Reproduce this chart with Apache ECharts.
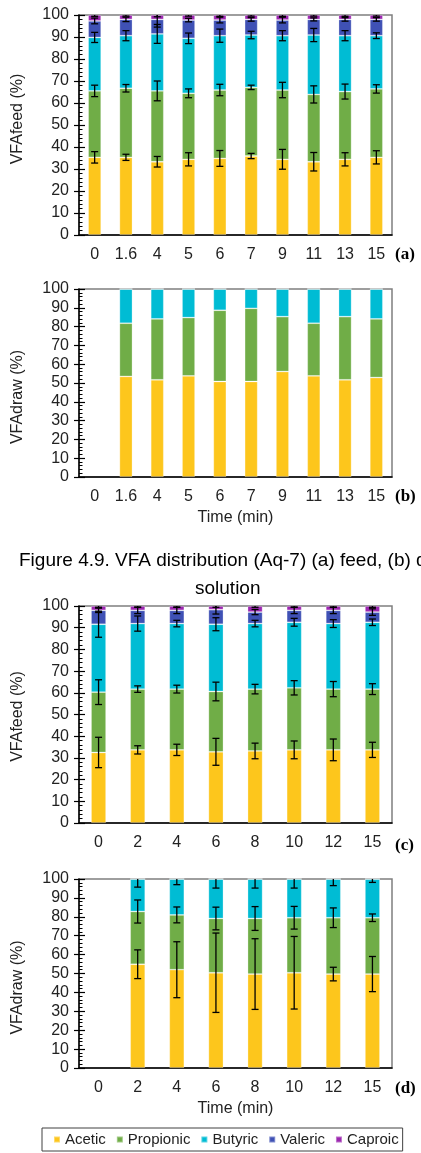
<!DOCTYPE html>
<html><head><meta charset="utf-8">
<script src="https://cdn.jsdelivr.net/npm/echarts@6/dist/echarts.min.js"></script>
<style>html,body{margin:0;padding:0;background:#fff}#c{width:421px;height:1153px}</style>
</head><body><div id="c"></div>
<script>
// ---------- DATA ----------
const speciesNames = ['Acetic', 'Propionic', 'Butyric', 'Valeric', 'Caproic'];
const speciesColors = ['#FDC61C', '#70AD47', '#00BCD4', '#3F51B5', '#9C27B0'];

const catsAB = ['0', '1.6', '4', '5', '6', '7', '9', '11', '13', '15'];
const catsCD = ['0', '2', '4', '6', '8', '10', '12', '15'];

// (a) feed, Aq-7 : segment percentages
const aAcetic    = [35.3, 35.3, 33.3, 34.4, 34.8, 35.9, 34.4, 33.3, 34.4, 35.3];
const aPropionic = [30.2, 31.4, 32.2, 30.0, 31.1, 31.2, 31.5, 30.6, 30.8, 31.1];
const aButyric   = [24.3, 23.9, 25.9, 25.0, 24.7, 23.8, 24.7, 27.0, 25.4, 24.2];
const aValeric   = [7.5, 7.4, 6.6, 8.3, 7.1, 7.1, 7.1, 7.1, 7.4, 7.4];
const aCaproic   = [2.7, 2.0, 2.0, 2.3, 2.3, 2.0, 2.3, 2.0, 2.0, 2.0];
// (a) error bars
const aAceticErr    = [2.6, 1.4, 2.4, 3.0, 3.6, 1.2, 4.5, 4.2, 3.0, 3.0];
const aPropionicErr = [2.6, 1.7, 4.5, 2.0, 2.6, 1.0, 3.5, 3.9, 3.4, 1.9];
const aButyricErr   = [2.3, 2.3, 4.3, 2.4, 3.0, 1.7, 2.3, 3.0, 2.3, 1.3];
const aValericErr   = [1.3, 1.0, 3.5, 0.8, 1.3, 0.8, 1.3, 0.7, 0.8, 0.8];
const aCaproicErr   = [0.6, 0.5, 0.8, 0.5, 0.6, 0.5, 0.6, 0.5, 0.6, 0.5];

// (b) draw, Aq-7
const bAcetic    = ['-', 53.5, 51.7, 53.8, 50.8, 50.8, 56.1, 53.8, 51.7, 52.9];
const bPropionic = ['-', 28.3, 32.4, 31.0, 37.9, 38.9, 29.2, 28.0, 33.6, 31.2];
const bButyric   = ['-', 18.2, 15.9, 15.2, 11.3, 10.3, 14.7, 18.2, 14.7, 15.9];
const bValeric   = ['-', 0, 0, 0, 0, 0, 0, 0, 0, 0];
const bCaproic   = ['-', 0, 0, 0, 0, 0, 0, 0, 0, 0];

// (c) feed
const cAcetic    = [32.5, 33.7, 33.7, 32.8, 33.2, 33.7, 33.7, 33.7];
const cPropionic = [27.8, 28.0, 28.0, 27.8, 28.5, 28.6, 28.0, 28.0];
const cButyric   = [31.3, 30.2, 30.2, 31.0, 30.2, 30.2, 30.2, 30.8];
const cValeric   = [6.4, 6.1, 6.1, 6.7, 5.3, 5.5, 6.1, 4.7];
const cCaproic   = [2.0, 2.0, 2.0, 1.7, 2.8, 2.0, 2.0, 2.8];
const cAceticErr    = [7.0, 1.9, 2.6, 6.2, 3.6, 4.1, 5.0, 3.5];
const cPropionicErr = [5.7, 1.5, 1.8, 4.3, 2.2, 3.3, 3.5, 2.5];
const cButyricErr   = [6.0, 3.5, 1.5, 3.0, 1.5, 1.8, 1.8, 1.5];
const cValericErr   = [1.0, 1.5, 1.5, 2.0, 1.2, 1.5, 1.5, 1.5];
const cCaproicErr   = [0.6, 0.6, 0.6, 0.6, 0.6, 0.6, 0.6, 0.6];

// (d) draw
const dAcetic    = ['-', 54.9, 52.0, 50.4, 49.7, 50.4, 49.7, 49.7];
const dPropionic = ['-', 27.9, 29.0, 28.7, 29.4, 29.1, 29.8, 29.8];
const dButyric   = ['-', 17.2, 19.0, 20.9, 20.9, 20.5, 20.5, 20.5];
const dValeric   = ['-', 0, 0, 0, 0, 0, 0, 0];
const dCaproic   = ['-', 0, 0, 0, 0, 0, 0, 0];
const dAceticErr    = [0, 7.6, 14.8, 21.0, 18.7, 19.2, 3.6, 9.3];
const dPropionicErr = [0, 6.1, 4.2, 6.0, 6.3, 6.0, 5.2, 2.0];
const dButyricErr   = [0, 4.3, 3.0, 4.8, 4.8, 4.8, 3.5, 1.8];
const dValericErr   = [0, 0, 0, 0, 0, 0, 0, 0];
const dCaproicErr   = [0, 0, 0, 0, 0, 0, 0, 0];

const yTicks = { min: 0, max: 100, interval: 10 };
const yNameFeed = 'VFAfeed (%)';
const yNameDraw = 'VFAdraw (%)';
const xName = 'Time (min)';
const panelTags = ['(a)', '(b)', '(c)', '(d)'];
const captionLine1 = 'Figure 4.9. VFA distribution (Aq-7) (a) feed, (b) draw';
const captionLine2 = 'solution';

// ---------- CHART ----------
const FONT = '"Liberation Sans", Arial, sans-serif';
const TXT = '#222';

const panels = [
  { cats: catsAB, seg: [aAcetic, aPropionic, aButyric, aValeric, aCaproic],
    err: [aAceticErr, aPropionicErr, aButyricErr, aValericErr, aCaproicErr],
    grid: { left: 79, width: 313, top: 15, height: 220 }, yName: yNameFeed, namePad: [0, 0, 0, 12], xName: null, barW: 13 },
  { cats: catsAB, seg: [bAcetic, bPropionic, bButyric, bValeric, bCaproic], err: null,
    grid: { left: 79, width: 313, top: 289, height: 188 }, yName: yNameDraw, namePad: [0, 28, 0, 0], xName: xName, barW: 13 },
  { cats: catsCD, seg: [cAcetic, cPropionic, cButyric, cValeric, cCaproic],
    err: [cAceticErr, cPropionicErr, cButyricErr, cValericErr, cCaproicErr],
    grid: { left: 79, width: 313, top: 606, height: 217 }, yName: yNameFeed, namePad: [0, 4, 0, 0], xName: null, barW: 15 },
  { cats: catsCD, seg: [dAcetic, dPropionic, dButyric, dValeric, dCaproic],
    err: [dAceticErr, dPropionicErr, dButyricErr, dValericErr, dCaproicErr],
    grid: { left: 79, width: 313, top: 879, height: 189 }, yName: yNameDraw, namePad: [0, 28, 0, 0], xName: xName, barW: 15 }
];

function num(v) { return (v === '-' || v == null) ? NaN : v; }

function errRender(params, api) {
  const i = api.value(0), top = api.value(1), e = api.value(2);
  if (isNaN(top) || !e) return;
  const hi = Math.min(100, top + e), lo = Math.max(0, top - e);
  const pHi = api.coord([i, hi]), pLo = api.coord([i, lo]);
  const x = pHi[0], cw = 3.5;
  const style = { stroke: '#000', lineWidth: 1.3 };
  const ch = [
    { type: 'line', shape: { x1: x, y1: pHi[1], x2: x, y2: pLo[1] }, style },
    { type: 'line', shape: { x1: x - cw, y1: pLo[1], x2: x + cw, y2: pLo[1] }, style }
  ];
  if (top + e <= 100) ch.push({ type: 'line', shape: { x1: x - cw, y1: pHi[1], x2: x + cw, y2: pHi[1] }, style });
  return { type: 'group', children: ch };
}

const grids = [], xAxes = [], yAxes = [], series = [], graphics = [];

panels.forEach((p, pi) => {
  grids.push(Object.assign({ show: true, borderColor: '#7f7f7f', borderWidth: 1.5, containLabel: false }, p.grid));
  xAxes.push({
    type: 'category', gridIndex: pi, data: p.cats,
    axisLine: { lineStyle: { color: '#000', width: 1.5 } },
    axisTick: { show: false },
    axisLabel: { interval: 0, fontSize: 16, fontFamily: FONT, color: TXT, margin: 12 },
    name: p.xName, nameLocation: 'middle', nameGap: 33,
    nameTextStyle: { fontSize: 16, fontFamily: FONT, color: TXT }
  });
  yAxes.push({
    type: 'value', gridIndex: pi, min: yTicks.min, max: yTicks.max, interval: yTicks.interval,
    axisLine: { show: true, lineStyle: { color: '#000', width: 1.5 } },
    axisTick: { show: true, inside: true, length: 6, lineStyle: { color: '#000', width: 1.2 } },
    minorTick: { show: true, splitNumber: 5, length: 3.5, lineStyle: { color: '#000', width: 1 } },
    splitLine: { show: false },
    axisLabel: { fontSize: 16, fontFamily: FONT, color: TXT, margin: 10 },
    name: p.yName, nameLocation: 'middle', nameGap: 53,
    nameTextStyle: { fontSize: 16, fontFamily: FONT, color: TXT, padding: p.namePad }
  });
  // stacked bars
  p.seg.forEach((arr, si) => {
    series.push({
      type: 'bar', name: speciesNames[si], xAxisIndex: pi, yAxisIndex: pi,
      stack: 'p' + pi, barWidth: p.barW, data: arr,
      itemStyle: { color: speciesColors[si], borderColor: 'rgba(255,255,255,0.35)', borderWidth: 0.8 },
      emphasis: { disabled: true }
    });
  });
});

// outside halves of major ticks (duplicate axes, no labels)
panels.forEach((p, pi) => {
  yAxes.push({
    type: 'value', gridIndex: pi, min: yTicks.min, max: yTicks.max, interval: yTicks.interval,
    position: 'left', offset: 0,
    axisLine: { show: false }, axisLabel: { show: false }, splitLine: { show: false },
    axisTick: { show: true, inside: false, length: 5, lineStyle: { color: '#000', width: 1.2 } }
  });
});

// error bars
panels.forEach((p, pi) => {
  if (!p.err) return;
  const cum = p.cats.map(() => 0);
  p.seg.forEach((arr, si) => {
    const data = p.cats.map((c, i) => {
      const v = num(arr[i]);
      cum[i] += isNaN(v) ? 0 : v;
      return [i, isNaN(v) ? NaN : +cum[i].toFixed(2), p.err[si][i]];
    });
    series.push({
      type: 'custom', name: speciesNames[si] + ' SD', xAxisIndex: pi, yAxisIndex: pi,
      renderItem: errRender, data: data, encode: { x: 0, y: 1 }, z: 5, silent: true
    });
  });
});

// panel tags
const tagY = [255, 497, 846, 1089];
panelTags.forEach((t, i) => {
  graphics.push({ type: 'text', left: 395, top: tagY[i] - 9,
    style: { text: t, font: 'bold 17px "Liberation Serif", "Times New Roman", serif', fill: '#000' } });
});
graphics.push({ type: 'text', left: 19, top: 551,
  style: { text: captionLine1, font: '19px ' + FONT, fill: '#000' } });
graphics.push({ type: 'text', left: 195, top: 579,
  style: { text: captionLine2, font: '19px ' + FONT, fill: '#000' } });

const chart = echarts.init(document.getElementById('c'), null, { renderer: 'canvas' });
chart.setOption({
  animation: false,
  backgroundColor: '#fff',
  grid: grids, xAxis: xAxes, yAxis: yAxes, series: series, graphic: graphics,
  legend: {
    data: speciesNames, left: 42, top: 1128, icon: 'rect', itemWidth: 6, itemHeight: 6, itemGap: 10,
    textStyle: { fontSize: 15, fontFamily: FONT, color: TXT },
    borderColor: '#404040', borderWidth: 1, padding: [4, 4, 4, 11]
  }
});
</script></body></html>
